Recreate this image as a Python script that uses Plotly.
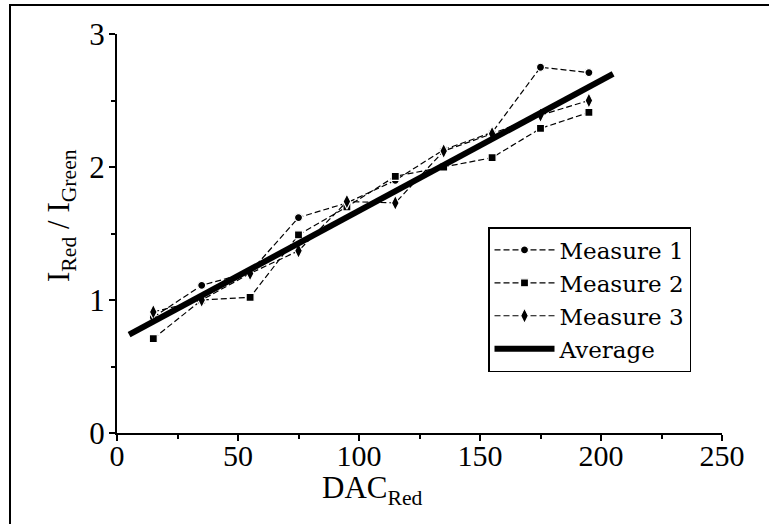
import plotly.graph_objects as go

# ---- data ----
dac = [15, 35, 55, 75, 95, 115, 135, 155, 175, 195]
measure1 = [0.87, 1.11, 1.21, 1.62, 1.73, 1.90, 2.13, 2.26, 2.75, 2.71]
measure2 = [0.71, 1.00, 1.02, 1.49, 1.70, 1.93, 2.00, 2.07, 2.29, 2.41]
measure3 = [0.91, 1.00, 1.20, 1.37, 1.74, 1.73, 2.12, 2.25, 2.39, 2.50]
avg_x = [5, 205]
avg_y = [0.74, 2.70]

x_ticks = [0, 50, 100, 150, 200, 250]
y_ticks = [0, 1, 2, 3]

FONT = "Liberation Serif"
W, H = 769, 524
L, R, T, B = 117, 47, 34, 91
PW, PH = W - L - R, H - T - B


def px(x):
    return (x - L) / PW


def py(y):
    return (H - B - y) / PH


fig = go.Figure()

series = [
    ("Measure 1", measure1, "circle", 8),
    ("Measure 2", measure2, "square", 8),
    ("Measure 3", measure3, "diamond-tall", 11),
]
for name, vals, sym, size in series:
    fig.add_trace(go.Scatter(
        x=dac, y=vals, name=name, mode="lines+markers",
        line=dict(color="black", width=1.2, dash="6px,3px"),
        marker=dict(symbol=sym, size=size, color="black",
                    line=dict(color="white", width=1.2)),
    ))

fig.add_trace(go.Scatter(
    x=avg_x, y=avg_y, name="Average", mode="lines",
    line=dict(color="black", width=6),
))

axis_common = dict(
    showline=True, linecolor="black", linewidth=2,
    ticks="outside", ticklen=6, tickwidth=1.5, tickcolor="black",
    showgrid=False, zeroline=False, mirror=False,
)

fig.update_xaxes(
    range=[0, 250], tickvals=x_ticks, ticktext=[str(v) for v in x_ticks],
    minor=dict(ticks="outside", ticklen=4, tickwidth=1.5, tickcolor="black", dtick=25),
    ticklabelstandoff=-11,
    tickfont=dict(family=FONT, size=30, color="black"),
    **axis_common,
)
fig.update_yaxes(
    range=[0, 3], tickvals=y_ticks, ticktext=[str(v) for v in y_ticks],
    minor=dict(ticks="outside", ticklen=4, tickwidth=1.5, tickcolor="black", dtick=0.5),
    ticklabelstandoff=-2,
    tickfont=dict(family=FONT, size=31, color="black"),
    **axis_common,
)

fig.update_layout(
    width=W, height=H,
    margin=dict(l=L, r=R, t=T, b=B),
    paper_bgcolor="white", plot_bgcolor="white",
    font=dict(family=FONT, color="black"),
    showlegend=True,
    legend=dict(
        x=px(488), y=py(227), xanchor="left", yanchor="top",
        bgcolor="white", bordercolor="black", borderwidth=1.5,
        font=dict(family="DejaVu Serif", size=23, color="black"),
        itemwidth=60, tracegroupgap=0,
    ),
    annotations=[
        dict(text="DAC<sub>Red</sub>", xref="paper", yref="paper",
             x=px(372), y=py(490), xanchor="center", yanchor="middle",
             showarrow=False, font=dict(family=FONT, size=31, color="black")),
        dict(text="I<sub>Red</sub> / I<sub>Green</sub>", xref="paper", yref="paper",
             x=px(61), y=py(216), xanchor="center", yanchor="middle", textangle=-90,
             showarrow=False, font=dict(family=FONT, size=31, color="black")),
    ],
    shapes=[
        dict(type="rect", xref="paper", yref="paper",
             x0=px(10), y0=py(5), x1=px(900), y1=py(700),
             line=dict(color="black", width=2), fillcolor="rgba(0,0,0,0)", layer="below"),
    ],
)

fig.write_html("out.html")
